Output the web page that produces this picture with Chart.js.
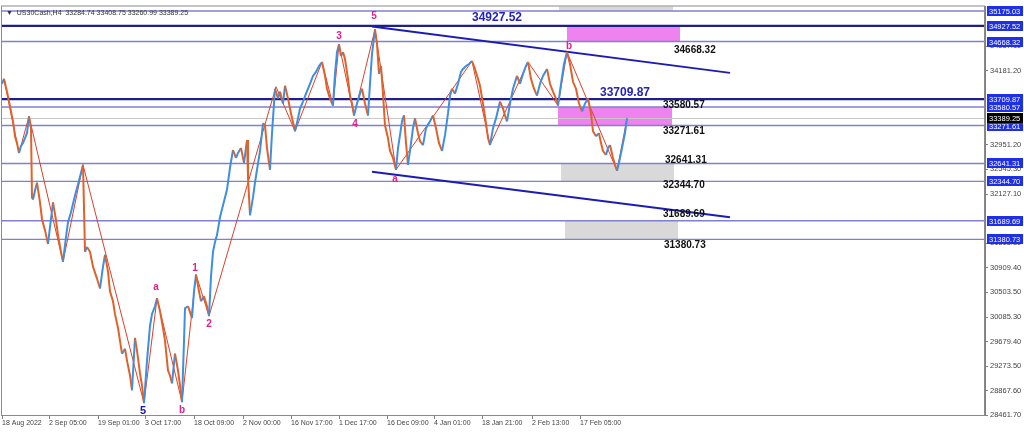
<html>
<head>
<title>US30Cash H4</title>
<script src="https://cdn.jsdelivr.net/npm/chart.js"></script>
<style>
  html, body { margin: 0; padding: 0; background: #fff; }
  #wrap { width: 1024px; height: 433px; }
</style>
</head>
<body>
<div id="wrap"><canvas id="chart"></canvas></div>
<script>
// H4 bar index (0 = 18 Aug 2022) and price
const bars = [0,2,5,8,11,13,15,17,19,21, 23,25,27,29,30,31,33,35,38,40, 43,46,48,51,54,56,59,61,64,66,
  69,73,77,81,83,85,88,91,95,98, 101,103,106,108,111,113,116,118,120,123, 125,128,130,133,135,138,140,142,145,148,
  150,153,155,158,161,163,166,168,170,173, 176,178,180,182,183,186,190,192,194,197, 199,202,205,207,209,211,213,215,218,220,
  223,225,228,231,234,236,239,242,245,246, 248,251,253,255,258,261,263,265,268,270, 273,276,278,281,283,286,289,293,296,298,
  301,304,308,311,314,317,320,323,325,328, 331,333,335,337,339,341,343,346,348,350, 352,355,358,360,363,366,368,370,373,375,
  377,379,381,383,386,388,391,394,396,398, 400,402,404,406,409,411,413,416,418,421, 424,428,431,434,437,440,443,446,448,450,
  453,456,459,461,464,467,470,473,476,478, 481,484,486,488,491,494,498,501,503,505, 508,511,515,518,521,524,526,529,532,535,
  538,541,545,548,551,554,556,559,562,565, 568,571,574,577,580,583,586,589,591,594, 597,599,601,604,606,608,611,613,615,617,
  619,621,623,625];
const prices = [33966,34048,33835,33588,33342,33095,32980,32816,32931,32980, 33062,33145,33424,33227,32077,32044,32191,32323,31994,31715,
  31534,31304,31584,31994,31699,31452,31173,31009,31419,31666, 31830,32109,32356,32619,31173,31255,31173,30927,30729,30565,
  30927,31124,30844,30516,30351,30138,29908,29694,29481,29563, 29366,29119,28873,29744,29530,29152,28955,28659,29366,29941,
  30138,30269,30401,30187,29908,29694,29201,29119,28988,29481, 29201,28955,28676,29694,30236,30269,30072,30516,30795,30516,
  30351,30434,30269,30105,30762,31173,31337,31452,31748,31879, 32077,32208,32570,32865,32734,32816,32898,32652,33030,32405,
  31781,32077,32323,32537,32849,33309,33276,32898,32537,33145, 33884,33720,33835,33637,33933,33720,33473,33177,33391,33555,
  33670,33802,33966,34097,34163,34262,34328,34097,33884,33720, 33605,34130,34492,34623,34426,34492,34377,34048,33769,33637,
  33440,33637,33802,33884,33637,33440,33966,34459,34870,34623, 34130,34262,33802,33276,33062,32849,32734,32537,32898,33112,
  33342,33440,32980,32619,32980,33227,33391,33145,33013,32947, 33227,33342,33440,33227,32980,32849,33112,33473,33769,33884,
  33802,33966,34163,34212,34262,34295,34344,34212,34048,33933, 33637,33309,33062,32947,33227,33391,33670,33555,33440,33342,
  33637,33884,34097,33966,34130,34262,34328,34048,33884,33769, 33966,34097,34212,33966,33835,33720,33605,33966,34295,34492,
  34295,33999,33884,33637,33506,33637,33720,33473,33177,33095, 33145,32980,32849,32783,32898,32947,32734,32619,32520,32652,
  32816,32980,33145,33389.25];

// zigzag pivots
const zzBars = [2,17,27,61,81,142,155,180,194,207,274,293,320,331,337,352,373,394,470,488,526,556,565,615,625];
const zzPrices = [34048,32816,33424,31009,32619,28659,30401,28676,30795,30105,33917,33177,34328,33605,34623,33440,34870,32537,34344,32947,34328,33605,34492,32520,33389];

// horizontal levels
const levels = [35175.03, 34927.52, 34668.32, 33709.87, 33580.57, 33271.61, 32641.31, 32344.70, 31689.69, 31380.73];
const majorLevels = [34927.52, 33709.87];
const lastPrice = 33389.25;
const ohlc = ['33284.74', '33408.75', '33260.99', '33389.25'];

// channel
const chanBars = [370, 728];
const chanUpper = [34919, 34147];
const chanLower = [32503, 31748];

// zones
const zoneFrom = [557, 565, 556, 559, 563];
const zoneTo = [671, 678, 670, 672, 676];
const zoneHigh = [35250, 34927.52, 33580.57, 32641.31, 31689.69];
const zoneLow = [35175.03, 34668.32, 33271.61, 32344.70, 31380.73];
const zoneKind = ['demand', 'supply', 'supply', 'demand', 'demand'];

// axis
const xTickBars = [0,47,96,143,192,241,289,337,385,432,480,530,578];
const xTickLabels = ['18 Aug 2022','2 Sep 05:00','19 Sep 01:00','3 Oct 17:00','18 Oct 09:00','2 Nov 00:00',
  '16 Nov 17:00','1 Dec 17:00','16 Dec 09:00','4 Jan 01:00','18 Jan 21:00','2 Feb 13:00','17 Feb 05:00'];
const yTicks = [34587.10, 34181.20, 32951.20, 32545.30, 32127.10, 31315.30, 30909.40, 30503.50, 30085.30, 29679.40, 29273.50, 28867.60, 28461.70];

// annotations
const waveText = ['5','3','4','b','a','a','1','2','b','5'];
const waveAt = [[372,35080],[337,34754],[353,33292],[567,34590],[393,32372],[154,30581],[193,30893],[207,29973],[180,28544],[141,28527]];
const bigNotes = ['34927.52', '33709.87'];
const bigAt = [[495,35058],[623,33826]];
const noteText = ['34668.32','33580.57','33271.61','32641.31','32344.70','31689.69','31380.73'];
const noteAt = [[672,34524],[661,33604],[661,33177],[663,32700],[661,32273],[661,31797],[662,31288]];

const BLUE = '#3f8fe0', ORANGE = '#e0622a';
const FONT = '"Liberation Sans", Arial, sans-serif';

const datasets = [];
datasets.push({
  data: bars.map((b, i) => ({x: b, y: prices[i]})),
  borderWidth: 2, pointRadius: 0, tension: 0,
  borderColor: BLUE,
  segment: { borderColor: c => c.p1.parsed.y >= c.p0.parsed.y ? BLUE : ORANGE },
  order: 1
});
datasets.push({
  data: zzBars.map((b, i) => ({x: b, y: zzPrices[i]})),
  borderColor: '#d8402a', borderWidth: 1, pointRadius: 0, order: 2
});
levels.forEach(v => {
  const major = majorLevels.includes(v);
  datasets.push({
    data: [{x: 0, y: v}, {x: 983, y: v}],
    borderColor: major ? '#1e1e8c' : '#7f7fd4', borderWidth: major ? 2.2 : 1.4,
    pointRadius: 0, order: 5
  });
});
datasets.push({
  data: [{x: 0, y: lastPrice}, {x: 983, y: lastPrice}],
  borderColor: '#c8c8c8', borderWidth: 1, pointRadius: 0, order: 6
});
[chanUpper, chanLower].forEach(arr => {
  datasets.push({
    data: chanBars.map((b, i) => ({x: b, y: arr[i]})),
    borderColor: '#1c1cb4', borderWidth: 2, pointRadius: 0, order: 3
  });
});

const overlay = {
  id: 'overlay',
  beforeDatasetsDraw(chart) {
    const {ctx, scales: {x, y}} = chart;
    ctx.save();
    zoneFrom.forEach((f, i) => {
      ctx.fillStyle = zoneKind[i] === 'supply' ? '#ee82ee' : '#d9d9d9';
      const x0 = x.getPixelForValue(f), x1 = x.getPixelForValue(zoneTo[i]);
      const y0 = y.getPixelForValue(zoneHigh[i]), y1 = y.getPixelForValue(zoneLow[i]);
      ctx.fillRect(x0, y0, x1 - x0, y1 - y0);
    });
    ctx.restore();
  },
  afterDatasetsDraw(chart) {
    const {ctx, scales: {x, y}} = chart;
    ctx.save();
    ctx.textBaseline = 'middle';
    ctx.textAlign = 'center';
    ctx.font = 'bold 10px ' + FONT;
    waveText.forEach((t, i) => {
      ctx.fillStyle = (i === waveText.length - 1) ? '#1414b8' : '#e0208c';
      if (i === waveText.length - 1) ctx.font = 'bold 11px ' + FONT;
      ctx.fillText(t, x.getPixelForValue(waveAt[i][0]), y.getPixelForValue(waveAt[i][1]));
    });
    ctx.font = 'bold 12px ' + FONT;
    ctx.fillStyle = '#2323b8';
    bigNotes.forEach((t, i) => ctx.fillText(t, x.getPixelForValue(bigAt[i][0]), y.getPixelForValue(bigAt[i][1])));
    ctx.textAlign = 'left';
    ctx.font = 'bold 10px ' + FONT;
    ctx.fillStyle = '#111';
    noteText.forEach((t, i) => ctx.fillText(t, x.getPixelForValue(noteAt[i][0]), y.getPixelForValue(noteAt[i][1])));
    ctx.restore();
  },
  afterDraw(chart) {
    const {ctx, chartArea: a, scales: {y}} = chart;
    ctx.save();
    // frame
    ctx.strokeStyle = '#8a8a8a';
    ctx.lineWidth = 1;
    ctx.strokeRect(a.left - 0.5, a.top - 0.5, a.right - a.left, a.bottom - a.top + 1);
    // title
    ctx.font = '7px ' + FONT;
    ctx.textBaseline = 'middle';
    ctx.textAlign = 'left';
    ctx.fillStyle = '#333';
    ctx.fillText('\u25BC  US30Cash,H4  ' + ohlc.join(' '), a.left + 4, a.top + 7);
    // price boxes on the axis
    ctx.font = '7.5px ' + FONT;
    const drawBox = (v, bg) => {
      const py = Math.round(y.getPixelForValue(v));
      ctx.fillStyle = bg;
      ctx.fillRect(a.right + 2, py - 5, 36, 10);
      ctx.fillStyle = '#fff';
      ctx.fillText(v.toFixed(2), a.right + 4, py + 0.5);
    };
    levels.forEach(v => drawBox(v, '#1f2fe6'));
    drawBox(lastPrice, '#000');
    ctx.restore();
  }
};

new Chart(document.getElementById('chart'), {
  type: 'line',
  data: { datasets },
  options: {
    responsive: true,
    maintainAspectRatio: false,
    animation: false,
    layout: { padding: { left: 2, top: 2, right: 0, bottom: 0 } },
    plugins: { legend: { display: false }, tooltip: { enabled: false } },
    scales: {
      x: {
        type: 'linear', min: 0, max: 983,
        afterBuildTicks: s => { s.ticks = xTickBars.map(v => ({value: v})); },
        afterFit: s => { s.height = 18; },
        grid: { drawOnChartArea: false, tickLength: 4, color: '#808080' },
        border: { color: '#808080' },
        ticks: {
          align: 'start', padding: 0, maxRotation: 0, autoSkip: false,
          color: '#444', font: { size: 7, family: FONT },
          callback: (v) => xTickLabels[xTickBars.indexOf(v)]
        }
      },
      y: {
        position: 'right', min: 28461.7, max: 35250,
        afterBuildTicks: s => { s.ticks = yTicks.map(v => ({value: v})); },
        afterFit: s => { s.width = 39; },
        grid: { drawOnChartArea: false, tickLength: 3, color: '#808080' },
        border: { color: '#808080' },
        ticks: {
          padding: 2, autoSkip: false, color: '#444', font: { size: 7.5, family: FONT },
          callback: v => v.toFixed(2)
        }
      }
    }
  },
  plugins: [overlay]
});
</script>
</body>
</html>
